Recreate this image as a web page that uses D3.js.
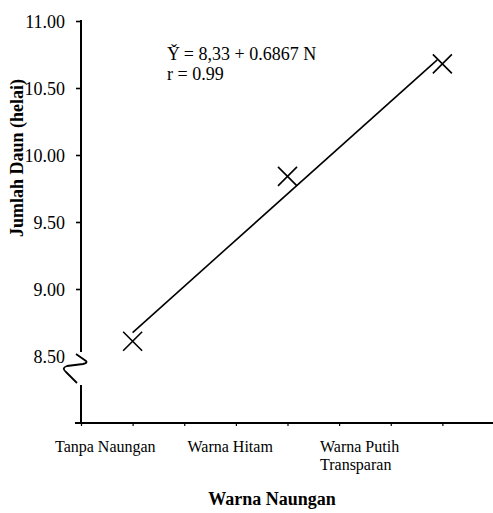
<!DOCTYPE html>
<html>
<head>
<meta charset="utf-8">
<script src="https://cdn.jsdelivr.net/npm/d3@7"></script>
<style>
  html, body { margin: 0; padding: 0; background: #fff; }
  svg { display: block; }
  svg text { font-family: "Liberation Serif", "Times New Roman", serif !important; fill: #000; }
</style>
</head>
<body>
<svg id="chart" width="493" height="513"></svg>
<script>
// ---- data ----
const categories = ["Tanpa Naungan", "Warna Hitam", "Warna Putih Transparan"];
const categoryLines = [["Tanpa Naungan"], ["Warna Hitam"], ["Warna Putih", "Transparan"]];
const categoryX = [1, 4, 7];               // positions on the chart's x axis
const leafValues = [8.61, 9.84, 10.68];    // Jumlah Daun (helai)
const yTickValues = [8.5, 9.0, 9.5, 10.0, 10.5, 11.0];
const xTickValues = [0, 1, 2, 3, 4, 5, 6, 7, 8];
const equationLines = ["Y\u030C = 8,33 + 0.6867 N", "r = 0.99"];
const yTitle = "Jumlah Daun (helai)";
const xTitle = "Warna Naungan";

// ---- layout ----
const svg = d3.select("#chart");
const x = d3.scaleLinear().domain([0, 8]).range([81, 494]);
const y = d3.scaleLinear().domain([8, 11]).range([423, 21]);
const labelPos = d3.scalePoint().domain(categories).range([55, 320]);

const x0 = x(0), yBase = y(8);

// y axis ticks & labels (domain drawn manually with break)
const yAxis = d3.axisLeft(y).tickValues(yTickValues).tickSize(5).tickFormat(d3.format(".2f"));
const gy = svg.append("g").attr("transform", `translate(${x0},0)`).call(yAxis)
  .attr("font-family", null).attr("font-size", null);
gy.select(".domain").remove();
gy.selectAll(".tick line").attr("stroke", "#000").attr("stroke-width", 1.6)
  .filter(d => d === 8.5).remove();
gy.selectAll(".tick text").attr("x", -16).attr("dy", "0.35em")
  .style("font-size", "18px").attr("fill", "#000");

// y axis line with break
const yb = y(8.5);
svg.append("line").attr("x1", x0).attr("x2", x0).attr("y1", y(11) - 1).attr("y2", yb - 4)
  .attr("stroke", "#000").attr("stroke-width", 2);
svg.append("line").attr("x1", x0).attr("x2", x0).attr("y1", yb + 29).attr("y2", yBase)
  .attr("stroke", "#000").attr("stroke-width", 2);
svg.append("path")
  .attr("d", `M${x0-5},${yb-2} L${x0+5},${yb+5} Q${x0+7},${yb+7} ${x0+2},${yb+8} L${x0-14},${yb+10} Q${x0-20},${yb+12} ${x0-15},${yb+16} L${x0-4},${yb+27}`)
  .attr("fill", "none").attr("stroke", "#000").attr("stroke-width", 1.8);

// x axis
const xAxis = d3.axisBottom(x).tickValues(xTickValues).tickSize(3).tickFormat("");
const gx = svg.append("g").attr("transform", `translate(0,${yBase})`).call(xAxis);
gx.select(".domain").remove();
gx.selectAll(".tick line").attr("stroke", "#000").attr("stroke-width", 1.2);
svg.append("line").attr("x1", x0 - 6).attr("x2", 493).attr("y1", yBase).attr("y2", yBase)
  .attr("stroke", "#000").attr("stroke-width", 2);

// category labels
categories.forEach((c, i) => {
  const t = svg.append("text").attr("x", labelPos(c)).attr("y", 452)
    .style("font-size", "16px");
  categoryLines[i].forEach((ln, j) => {
    t.append("tspan").attr("x", labelPos(c)).attr("dy", j === 0 ? 0 : 18).text(ln);
  });
});

// regression line (least squares on the plotted points)
const n = categoryX.length;
const mx = d3.mean(categoryX), my = d3.mean(leafValues);
const slope = d3.sum(categoryX.map((v, i) => (v - mx) * (leafValues[i] - my))) /
              d3.sum(categoryX.map(v => (v - mx) ** 2));
const icpt = my - slope * mx;
const lineEnds = [categoryX[0], categoryX[n - 1] - 0.1];
svg.append("line")
  .attr("x1", x(lineEnds[0])).attr("y1", y(icpt + slope * lineEnds[0]))
  .attr("x2", x(lineEnds[1])).attr("y2", y(icpt + slope * lineEnds[1]))
  .attr("stroke", "#000").attr("stroke-width", 1.6);

// X markers
const ms = 9.5;
svg.selectAll("path.mark").data(leafValues).join("path").attr("class", "mark")
  .attr("d", (d, i) => {
    const cx = x(categoryX[i]), cy = y(d);
    return `M${cx-ms},${cy-ms}L${cx+ms},${cy+ms}M${cx-ms},${cy+ms}L${cx+ms},${cy-ms}`;
  })
  .attr("stroke", "#000").attr("stroke-width", 1.6).attr("fill", "none");

// equation
equationLines.forEach((ln, i) => {
  svg.append("text").attr("x", 167).attr("y", 60 + i * 20).style("font-size", "18px").text(ln);
});

// axis titles
svg.append("text").attr("transform", `translate(23,158) rotate(-90)`)
  .attr("text-anchor", "middle").style("font-size", "18px").style("font-weight", "bold").text(yTitle);
svg.append("text").attr("x", 272).attr("y", 505).attr("text-anchor", "middle")
  .style("font-size", "18px").style("font-weight", "bold").text(xTitle);
</script>
</body>
</html>
